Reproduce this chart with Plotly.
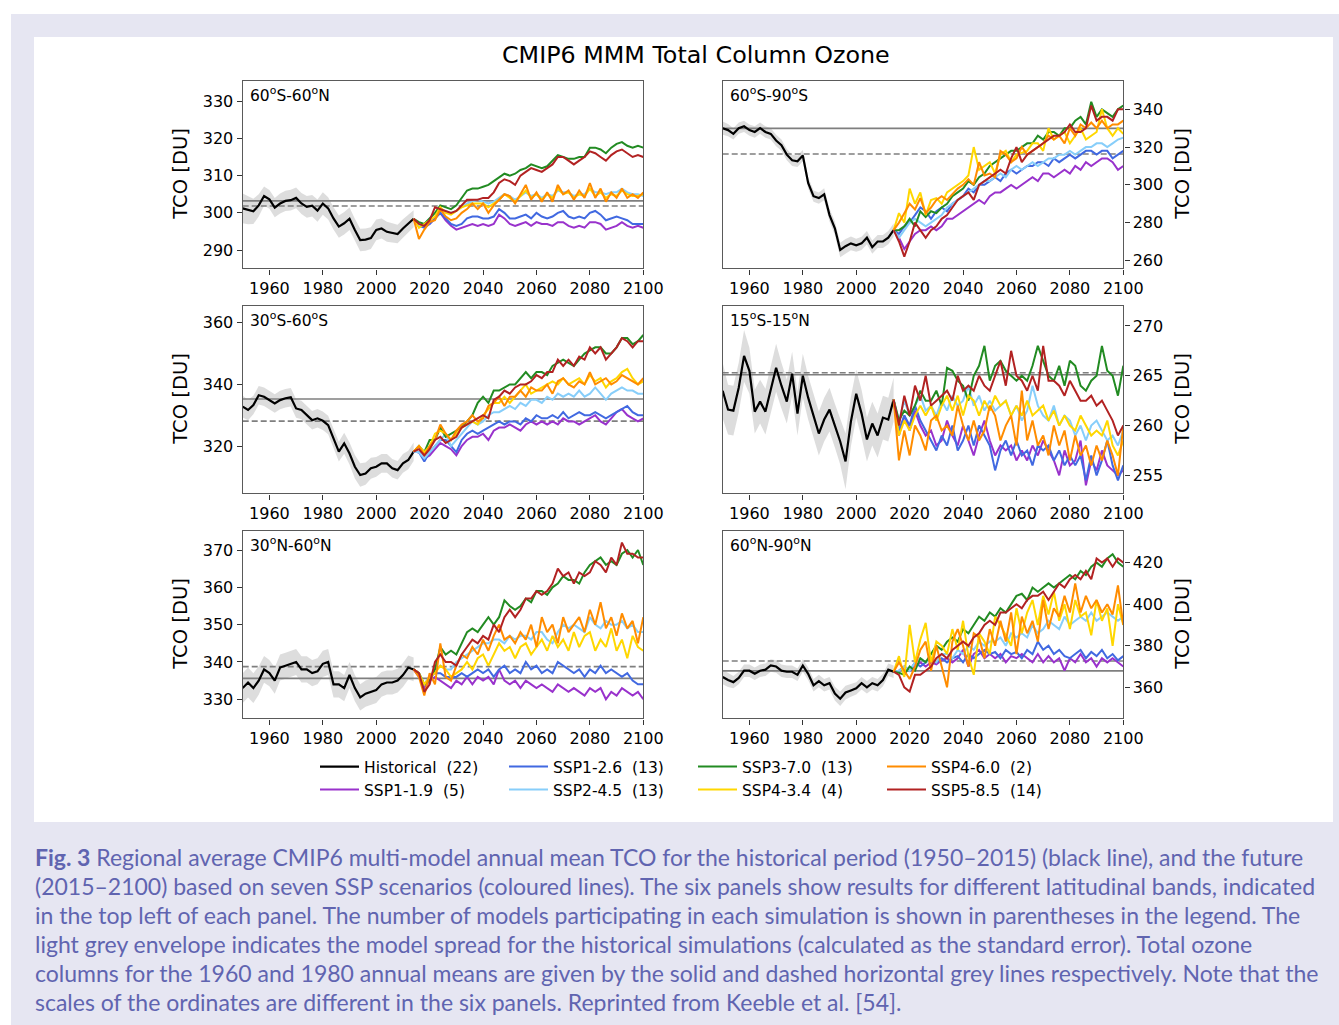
import plotly.graph_objects as go

# ---------------------------------------------------------------- data
HIST_YEARS = list(range(1950, 2015, 2))
SSP_YEARS = list(range(2016, 2101, 2))
X_TICKS = list(range(1960, 2101, 20))

HIST_NAME = "Historical"
HIST_MODELS = 22
SCENARIOS = ["SSP1-1.9", "SSP1-2.6", "SSP2-4.5", "SSP3-7.0", "SSP4-3.4", "SSP4-6.0", "SSP5-8.5"]
SSP_MODELS = [5, 13, 13, 13, 4, 2, 14]

REGIONS = ["60<sup>o</sup>S-60<sup>o</sup>N", "60<sup>o</sup>S-90<sup>o</sup>S",
           "30<sup>o</sup>S-60<sup>o</sup>S", "15<sup>o</sup>S-15<sup>o</sup>N",
           "30<sup>o</sup>N-60<sup>o</sup>N", "60<sup>o</sup>N-90<sup>o</sup>N"]

# 1960 and 1980 annual means (DU)
REF_1960 = [303.2, 329.9, 335.25, 265.1, 335.6, 367.9]
REF_1980 = [301.85, 316.3, 328.1, 265.3, 338.75, 372.7]

Y_TICKS = [[290, 300, 310, 320, 330], [260, 280, 300, 320, 340], [320, 340, 360],
           [255, 260, 265, 270], [330, 340, 350, 360, 370], [360, 380, 400, 420]]

# --- 60S-60N
HIST_60S_60N = [301.2, 300.7, 300.4, 302.0, 304.5, 303.6, 301.4, 302.5, 303.2, 303.4, 304.0,
                302.5, 301.6, 301.9, 300.6, 302.5, 301.2, 298.5, 296.3, 297.2, 298.4, 295.4,
                292.7, 292.8, 293.2, 295.4, 295.8, 294.9, 294.5, 294.3, 295.8, 297.2, 298.4]
SPREAD_60S_60N = [4.0, 3.8, 3.4, 3.0, 2.6, 2.5, 2.6, 2.7, 2.7, 2.8, 2.8, 2.8, 2.9, 2.9, 3.0, 3.0,
                  3.0, 3.0, 3.0, 3.0, 3.0, 3.0, 3.0, 3.0, 2.9, 2.8, 2.7, 2.7, 2.6, 2.5, 2.5, 2.4, 2.3]
SSP119_60S_60N = [296.5, 296.5, 297, 298.5, 300, 298, 296.5, 295.5, 296, 296.5, 297, 296.5, 297,
                  296.5, 297, 299.5, 298.5, 297, 296.5, 297, 297.5, 296.5, 297.5, 297, 297, 296.5,
                  297.5, 297.5, 296.5, 296, 296.5, 296, 297.5, 297.5, 297, 295.5, 296, 296.5,
                  297.5, 296.5, 296, 296.5, 296]
SSP126_60S_60N = [296.5, 296, 297, 298.5, 300, 298.5, 297, 296.5, 297, 298.5, 299, 299, 298.5,
                  298.5, 299, 301, 300, 298.5, 298.5, 299, 299.5, 298.5, 300, 299, 298.5, 299,
                  300, 300.5, 299, 298.5, 299, 298.5, 300, 300.5, 299.5, 298, 298.5, 299, 298.5,
                  298, 297, 297, 297]
SSP245_60S_60N = [296.5, 297, 298.5, 300, 301, 300.5, 300, 300.5, 301.5, 302.5, 303, 303.5, 303,
                  302.5, 303, 304, 305, 304.5, 303.5, 304.5, 305.5, 304.5, 305, 304, 305, 304.5,
                  306, 305.5, 305.5, 304.5, 305, 305, 306.5, 305.5, 305.5, 305, 305.5, 305.5,
                  306.5, 305.5, 305, 305, 304.5]
SSP370_60S_60N = [297.5, 297, 298.5, 300, 302, 301.5, 301, 302, 304, 306, 306.5, 306.5, 307,
                  307.5, 308.5, 309.5, 310.5, 310, 310.5, 311.5, 312, 313, 312.5, 312, 312.5, 314,
                  315.5, 315, 314.5, 314.5, 315, 315, 317.5, 317.5, 317, 316, 317.5, 318.5, 319,
                  318, 317.5, 318, 317.5]
SSP434_60S_60N = [296, 297, 298, 299, 301.5, 300, 299.5, 300.5, 301.5, 302, 302.5, 302.5, 302.5,
                  301.5, 302.5, 303.5, 305, 304, 303, 304.5, 306, 304, 305, 303.5, 305, 304,
                  306.5, 305, 305.5, 304, 305, 304.5, 306.5, 304.5, 305.5, 304, 305, 304.5, 306,
                  305, 304.5, 304.5, 305]
SSP460_60S_60N = [293, 295.5, 297.5, 298, 301, 299, 298, 298.5, 300, 301, 302.5, 301, 302.5, 300,
                  302, 303.5, 305, 304.5, 302.5, 305, 307.5, 303.5, 305.5, 303, 305.5, 303, 307.5,
                  305, 306, 303.5, 306, 304, 308, 304, 306.5, 303, 305.5, 304, 306.5, 304, 305,
                  304, 305.5]
SSP585_60S_60N = [297, 296.5, 298, 301.5, 301, 300.5, 300, 300.5, 302, 303.5, 303.5, 303.5, 304,
                  304, 305.5, 308, 309, 308.5, 307.5, 310, 311, 312, 311.5, 311, 312, 313, 315,
                  315, 314, 313, 314, 315, 316.5, 316, 315, 314, 315.5, 316.5, 317, 316, 315,
                  315.5, 315]

# --- 60S-90S
HIST_60S_90S = [330, 329, 327, 330, 331, 329, 328, 330, 328, 327, 323.5, 321, 316, 313, 312.5,
                315.5, 301, 294, 293, 295, 284, 277, 265.5, 267.5, 269, 268, 269, 272, 267, 270,
                270, 272, 276]
SPREAD_60S_90S = [3.5, 3.2, 3.0, 3.0, 3.0, 3.0, 3.0, 3.0, 3.0, 3.0, 3.0, 3.0, 3.0, 3.0, 3.0, 3.0,
                  3.0, 3.0, 3.0, 3.2, 3.4, 3.6, 3.8, 3.8, 3.6, 3.5, 3.5, 3.5, 3.5, 3.5, 3.5, 3.5, 3.5]
SSP119_60S_90S = [272, 266, 270, 274, 276, 276, 278, 276, 278, 282, 282, 284, 286, 288, 290, 292,
                  290, 294, 296, 296, 298, 300, 298, 300, 302, 304, 302, 306, 306, 304, 306, 308,
                  306, 310, 308, 312, 310, 312, 314, 314, 312, 308, 310]
SSP126_60S_90S = [274, 278, 280, 284, 288, 286, 282, 286, 288, 286, 290, 292, 294, 298, 296, 300,
                  300, 302, 304, 302, 306, 308, 306, 308, 310, 310, 312, 312, 310, 314, 312, 314,
                  316, 314, 316, 318, 318, 316, 318, 318, 314, 316, 318]
SSP245_60S_90S = [272, 276, 280, 282, 280, 278, 280, 282, 284, 288, 290, 292, 294, 296, 298, 300,
                  302, 302, 304, 306, 304, 308, 310, 308, 310, 312, 310, 312, 314, 314, 316, 316,
                  318, 316, 318, 320, 320, 322, 322, 320, 322, 324, 325]
SSP370_60S_90S = [276, 278, 282, 278, 286, 283, 286, 285, 288, 290, 294, 296, 298, 302, 300, 304,
                  306, 310, 312, 314, 316, 318, 318, 320, 322, 322, 326, 324, 328, 328, 326, 330,
                  330, 334, 336, 332, 344, 336, 340, 338, 336, 340, 342]
SSP434_60S_90S = [285, 280, 298, 290, 296, 284, 292, 293, 290, 296, 298, 300, 302, 305, 320, 308,
                  310, 312, 306, 316, 318, 312, 316, 317, 318, 322, 322, 318, 330, 324, 326, 328,
                  322, 326, 330, 324, 326, 328, 340, 330, 326, 330, 327]
SSP460_60S_90S = [280, 285, 290, 287, 293, 285, 288, 292, 294, 292, 295, 298, 300, 303, 300, 312,
                  305, 306, 304, 318, 316, 312, 314, 320, 316, 318, 320, 322, 326, 324, 326, 322,
                  330, 326, 332, 330, 333, 330, 334, 330, 332, 332, 334]
SSP585_60S_90S = [270, 262, 270, 280, 276, 272, 276, 278, 282, 284, 288, 292, 294, 296, 292, 300,
                  302, 304, 306, 308, 306, 314, 320, 312, 316, 318, 320, 322, 324, 326, 326, 328,
                  332, 328, 328, 330, 342, 334, 336, 336, 334, 340, 340]

# --- 30S-60S
HIST_30S_60S = [332.8, 331.7, 333.3, 336.5, 336.0, 334.9, 333.8, 334.9, 335.5, 335.8, 332.2,
                331.7, 330.0, 328.4, 329.0, 328.2, 326.8, 322.5, 318.2, 320.9, 317.6, 313.3,
                310.6, 311.1, 312.8, 313.3, 314.4, 314.4, 312.8, 312.2, 314.4, 315.5, 318.2]
SPREAD_30S_60S = [3.5, 3.3, 3.0, 3.0, 3.0, 3.0, 3.0, 3.0, 3.0, 3.0, 3.0, 3.0, 3.0, 3.0, 3.0, 3.0,
                  3.0, 3.0, 3.2, 3.4, 3.6, 3.8, 3.8, 3.6, 3.4, 3.2, 3.0, 3.0, 3.0, 3.0, 3.0, 3.0, 3.0]
SSP119_30S_60S = [318, 316, 317, 319, 321, 320, 319, 317, 320, 322, 323, 323, 324, 322, 325, 326,
                  326, 327, 326, 325, 327, 328, 327, 328, 327, 328, 327, 329, 328, 328, 327, 328,
                  329, 330, 328, 327, 329, 331, 332, 330, 329, 328, 329]
SSP126_30S_60S = [318, 315, 318, 320, 322, 322, 320, 318, 322, 324, 325, 324, 325, 326, 327, 328,
                  327, 328, 328, 327, 329, 328, 330, 329, 329, 330, 329, 331, 329, 330, 331, 330,
                  330, 331, 330, 329, 330, 331, 332, 333, 331, 330, 330]
SSP245_30S_60S = [318, 316, 318, 320, 322, 324, 320, 322, 324, 326, 328, 327, 328, 330, 331, 331,
                  332, 333, 332, 334, 333, 335, 335, 334, 336, 335, 337, 336, 337, 336, 338, 336,
                  337, 339, 337, 335, 337, 338, 339, 338, 338, 337, 337]
SSP370_30S_60S = [320, 318, 322, 322, 326, 323, 324, 325, 326, 328, 330, 334, 336, 334, 338, 338,
                  339, 340, 340, 342, 344, 342, 344, 344, 343, 346, 347, 348, 347, 346, 348, 350,
                  351, 352, 352, 350, 350, 352, 355, 355, 353, 354, 356]
SSP434_30S_60S = [320, 318, 320, 324, 325, 324, 322, 324, 326, 327, 328, 327, 330, 332, 334, 334,
                  336, 334, 336, 338, 340, 337, 338, 339, 340, 341, 340, 342, 340, 341, 342, 340,
                  343, 341, 342, 339, 341, 342, 344, 345, 342, 340, 341]
SSP460_30S_60S = [320, 317, 320, 322, 327, 324, 322, 325, 327, 328, 330, 328, 329, 333, 334, 336,
                  333, 336, 336, 338, 336, 339, 338, 338, 340, 337, 341, 342, 340, 339, 341, 340,
                  344, 340, 341, 342, 340, 341, 343, 342, 341, 340, 342]
SSP585_30S_60S = [319, 317, 319, 322, 323, 321, 322, 323, 326, 327, 328, 329, 330, 329, 335, 336,
                  338, 337, 339, 340, 340, 341, 343, 342, 344, 344, 348, 346, 348, 346, 349, 348,
                  352, 350, 352, 348, 350, 352, 355, 354, 352, 354, 354]

# --- 15S-15N
HIST_15S_15N = [263.5, 261.6, 261.5, 263.8, 267.0, 265.5, 261.4, 262.4, 261.4, 263.6, 265.8,
                264.0, 262.4, 265.2, 261.2, 265.0, 262.8, 261.0, 259.2, 260.6, 261.6, 260.0,
                258.4, 256.4, 260.4, 263.2, 261.2, 258.6, 260.2, 259.0, 260.8, 260.6, 262.6]
SPREAD_15S_15N = [2.8, 2.5, 2.5, 2.5, 2.6, 2.3, 2.2, 2.2, 2.3, 2.3, 2.4, 2.3, 2.2, 2.2, 2.2, 2.2,
                  2.2, 2.2, 2.2, 2.2, 2.2, 2.2, 2.3, 2.8, 2.5, 2.4, 2.4, 2.2, 2.2, 2.2, 2.2, 2.2, 2.2]
SSP119_15S_15N = [259, 261, 259.5, 261.5, 260, 259, 259.5, 258, 258.5, 260.5, 259, 258, 260,
                  258.5, 257, 259, 260.5, 258.5, 257, 258, 257.5, 258, 256.5, 257.5, 256.5, 258,
                  257, 258.5, 257.5, 256.5, 255, 257.5, 256, 256.5, 258.5, 254, 256.5, 255.5,
                  257.5, 256, 255.5, 255, 255.5]
SSP126_15S_15N = [259.5, 261, 260, 262, 260.5, 259.5, 258.5, 257.5, 259, 258, 260, 257.5, 258.5,
                  260, 258, 260, 259, 258, 255.5, 257.5, 258.5, 257, 258.5, 257, 257.5, 256, 258,
                  257.5, 258, 256.5, 257.5, 256, 257, 256, 257, 254.5, 257, 255, 256.5, 258.5,
                  256, 254.5, 256]
SSP245_15S_15N = [260.5, 262.5, 261, 262, 263, 261.5, 262, 261, 262.5, 261.5, 263, 262, 262.5,
                  264, 262, 263, 261.5, 262.5, 261.5, 262, 262.5, 261, 262, 260.5, 261.5, 264,
                  262, 261, 260.5, 262, 260, 261, 260.5, 259, 260, 258.5, 260, 260.5, 259.5,
                  258.5, 259, 258, 259.5]
SSP370_15S_15N = [260.5, 261.5, 261, 262, 263.5, 262.5, 262.5, 263.5, 262, 265.8, 265.5, 264.5,
                  264, 262.5, 265, 266, 268, 264.5, 266, 266.5, 265.5, 265, 264.5, 265, 264.5,
                  266, 268, 266.5, 265, 264.5, 266, 264, 266.5, 266, 264, 263.5, 264.5, 265, 268,
                  265.5, 265, 263, 266]
SSP434_15S_15N = [259, 260.5, 259.5, 261, 262, 261, 262, 260.5, 262, 263, 261.5, 263, 261, 263,
                  262.5, 261, 262.5, 261.5, 263, 262, 262.5, 261, 262, 261, 262.5, 261, 261.5, 262,
                  260.5, 261.5, 260, 261, 260, 259.5, 261, 260, 259, 259.5, 259, 260.5, 258, 257,
                  258.5]
SSP460_15S_15N = [256.5, 259.5, 257, 260, 259, 257.5, 260.5, 261, 259.5, 260, 259, 262, 260,
                  258.5, 260.5, 258.5, 259.5, 262, 261, 258.5, 260, 261, 258, 263.5, 258.5, 260.5,
                  258, 259, 257, 260, 258, 259.5, 256.5, 259, 257, 258, 256, 258, 256.5, 258.5,
                  257, 255, 260]
SSP585_15S_15N = [260, 263, 261, 264, 262.5, 265, 262, 262.5, 263, 263.5, 262.5, 265, 263.5, 264,
                  263.5, 265, 264, 263.5, 265, 266.5, 264, 267.5, 265, 264.5, 263.5, 265, 263.5,
                  268, 264.5, 264.5, 264, 263, 264.5, 263.5, 262.5, 262.5, 263, 262, 262.5, 261.5,
                  260.5, 259, 260]

# --- 30N-60N
HIST_30N_60N = [333, 334.5, 333, 335, 338, 337, 335, 338.5, 339, 339.5, 340, 338, 338, 337,
                337.5, 339.5, 340, 334, 334, 333, 336.5, 333, 330.5, 331.5, 332, 332.5, 334,
                334.5, 334.5, 335, 336.5, 338.5, 338]
SPREAD_30N_60N = [4.0, 4.0, 4.0, 3.8, 3.6, 3.5, 3.5, 3.5, 3.5, 3.5, 3.5, 3.5, 3.5, 3.5, 3.5, 3.5,
                  3.5, 3.5, 3.5, 3.5, 3.5, 3.5, 3.5, 3.5, 3.5, 3.5, 3.3, 3.2, 3.2, 3.2, 3.2, 3.2, 3.2]
SSP119_30N_60N = [336, 333, 335, 336, 335, 334, 333, 335, 334, 336, 334, 336, 335, 336, 334, 338,
                  335, 334, 335, 333, 335, 334, 333, 334, 333, 332, 334, 333, 332, 333, 332, 331,
                  333, 332, 333, 330, 332, 331, 333, 332, 331, 332, 330]
SSP126_30N_60N = [337, 334, 336, 337, 337, 336, 336, 336, 337, 336, 337, 338, 337, 338, 336, 338,
                  339, 337, 338, 337, 340, 338, 339, 337, 338, 337, 340, 339, 338, 337, 338, 336,
                  338, 337, 339, 337, 338, 337, 336, 337, 335, 334, 334]
SSP245_30N_60N = [337, 334, 336, 338, 339, 338, 338, 340, 341, 342, 343, 344, 345, 345, 346, 346,
                  345, 347, 346, 347, 347, 346, 348, 348, 346, 345, 348, 350, 349, 350, 349, 348,
                  352, 350, 349, 351, 350, 350, 351, 349, 350, 348, 348]
SSP370_30N_60N = [337, 334, 335, 338, 344, 342, 343, 342, 345, 348, 349, 348, 350, 352, 350, 352,
                  356.5, 355, 354, 355, 357, 356, 359, 359, 358, 360, 361, 363, 362, 362, 361, 364,
                  366, 367, 368, 366, 367, 366, 369, 370, 368, 370, 366]
SSP434_30N_60N = [337, 334, 336, 337, 339, 338, 336, 337, 338, 340, 338, 341, 342, 339, 342, 345,
                  343, 344, 341, 344, 345, 342, 344, 346, 343, 347, 344, 346, 343, 348, 344, 347,
                  348, 343, 346, 344, 349, 343, 346, 341, 347, 344, 343]
SSP460_30N_60N = [336, 331, 337, 334, 345, 336, 335, 339, 342, 341, 344, 342, 346, 343, 347, 350,
                  346, 347, 345, 348, 346, 350, 344, 352, 348, 350, 345, 352, 348, 350, 352, 348,
                  354, 350, 356, 349, 352, 347, 353, 349, 351, 345, 352]
SSP585_30N_60N = [337, 332, 334, 340, 342, 340, 340, 339, 342, 344, 346, 345, 347, 346, 350, 348,
                  352, 354, 352, 354, 357, 357, 359, 358, 359, 361, 365, 363, 364, 361, 364, 363,
                  364, 367, 366, 364, 368, 366, 372, 369, 369, 368, 368]

# --- 60N-90N
HIST_60N_90N = [365, 363.5, 362.5, 364.5, 368, 368, 366.5, 368, 368.5, 370.5, 370, 368, 367.5,
                367.5, 366, 370.5, 366.5, 361, 363, 361, 362, 357, 354.5, 357.5, 358.5, 359.5,
                362, 360, 362, 361, 363.5, 368.5, 367.5]
SPREAD_60N_90N = [3.5, 3.3, 3.0, 3.0, 3.0, 3.0, 3.0, 3.0, 3.0, 3.0, 3.0, 3.0, 3.0, 3.0, 3.0, 3.0,
                  3.0, 3.0, 3.0, 3.0, 3.0, 3.3, 3.5, 3.3, 3.0, 3.0, 3.0, 3.0, 3.0, 3.0, 3.0, 3.0, 3.0]
SSP119_60N_90N = [368, 370, 368, 370, 372, 370, 372, 371, 373, 374, 372, 374, 378, 370, 376, 378,
                  374, 376, 374, 376, 372, 375, 374, 376, 374, 372, 376, 372, 375, 372, 374, 368,
                  374, 372, 376, 372, 374, 370, 374, 372, 374, 372, 370]
SSP126_60N_90N = [368, 370, 368, 372, 370, 372, 374, 372, 374, 372, 374, 375, 372, 376, 374, 376,
                  378, 376, 377, 374, 378, 376, 377, 374, 378, 376, 382, 378, 380, 376, 378, 375,
                  374, 376, 378, 374, 377, 375, 378, 374, 376, 373, 375]
SSP245_60N_90N = [368, 370, 368, 372, 374, 372, 374, 372, 376, 376, 374, 378, 376, 380, 378, 382,
                  380, 382, 382, 384, 380, 386, 384, 386, 384, 390, 386, 388, 392, 390, 388, 394,
                  390, 392, 394, 392, 396, 392, 394, 396, 394, 392, 394]
SSP370_60N_90N = [367, 366, 370, 368, 374, 372, 376, 380, 378, 382, 384, 382, 388, 386, 390, 394,
                  392, 396, 394, 398, 396, 400, 404, 405, 402, 408, 406, 408, 410, 408, 410, 412,
                  414, 412, 416, 414, 418, 420, 418, 422, 424, 420, 418]
SSP434_60N_90N = [375, 365, 390, 372, 383, 391, 372, 382, 380, 376, 388, 378, 392, 375, 366, 386,
                  382, 376, 394, 390, 385, 380, 398, 386, 396, 402, 390, 404, 395, 406, 392, 400,
                  388, 402, 394, 396, 385, 402, 392, 398, 380, 400, 390]
SSP460_60N_90N = [372, 368, 364, 370, 378, 382, 368, 380, 370, 360, 382, 388, 380, 370, 386, 384,
                  374, 388, 380, 392, 382, 396, 376, 394, 386, 392, 382, 402, 388, 398, 394, 404,
                  396, 410, 396, 404, 398, 402, 396, 400, 395, 409, 390]
SSP585_60N_90N = [366, 360, 358, 366, 366, 368, 370, 374, 376, 374, 378, 380, 382, 380, 384, 386,
                  390, 392, 390, 396, 396, 398, 400, 398, 402, 404, 404, 406, 402, 406, 410, 408,
                  412, 414, 412, 416, 412, 422, 420, 422, 418, 422, 420]

# ---------------------------------------------------------------- tables
PANEL_HIST = [HIST_60S_60N, HIST_60S_90S, HIST_30S_60S, HIST_15S_15N, HIST_30N_60N, HIST_60N_90N]
PANEL_SPREAD = [SPREAD_60S_60N, SPREAD_60S_90S, SPREAD_30S_60S, SPREAD_15S_15N,
                SPREAD_30N_60N, SPREAD_60N_90N]
PANEL_SSP = [
    [SSP119_60S_60N, SSP126_60S_60N, SSP245_60S_60N, SSP370_60S_60N, SSP434_60S_60N, SSP460_60S_60N, SSP585_60S_60N],
    [SSP119_60S_90S, SSP126_60S_90S, SSP245_60S_90S, SSP370_60S_90S, SSP434_60S_90S, SSP460_60S_90S, SSP585_60S_90S],
    [SSP119_30S_60S, SSP126_30S_60S, SSP245_30S_60S, SSP370_30S_60S, SSP434_30S_60S, SSP460_30S_60S, SSP585_30S_60S],
    [SSP119_15S_15N, SSP126_15S_15N, SSP245_15S_15N, SSP370_15S_15N, SSP434_15S_15N, SSP460_15S_15N, SSP585_15S_15N],
    [SSP119_30N_60N, SSP126_30N_60N, SSP245_30N_60N, SSP370_30N_60N, SSP434_30N_60N, SSP460_30N_60N, SSP585_30N_60N],
    [SSP119_60N_90N, SSP126_60N_90N, SSP245_60N_90N, SSP370_60N_90N, SSP434_60N_90N, SSP460_60N_90N, SSP585_60N_90N],
]

# ---------------------------------------------------------------- styling
W, H = 1339, 1025
FONT = "DejaVu Sans"
SSP_COLORS = ["#9932CC", "#4169E1", "#87CEFA", "#228B22", "#FFD700", "#FF8C00", "#B22222"]
SSP_LEGEND = ["legend2", "legend", "legend2", "legend", "legend2", "legend", "legend2"]
ENVELOPE = "rgba(210,210,210,0.75)"
REF_COLOR = "#7f7f7f"
FRAME = "#5a5a5a"
Y_RANGES = [[285.1, 335.4], [255.8, 355.0], [304.7, 365.4],
            [253.2, 272.0], [324.9, 375.1], [345.1, 435.2]]

COL_PX = [(242.7, 643.3), (722.7, 1123.3)]
ROW_PX = [(81.0, 268.3), (306.0, 493.3), (531.0, 718.3)]


def px_x(v):
    return v / W


def px_y(v):
    return 1 - v / H


fig = go.Figure()

for i in range(6):
    suffix = "" if i == 0 else str(i + 1)
    xa, ya = "x" + suffix, "y" + suffix
    hist = PANEL_HIST[i]
    spread = PANEL_SPREAD[i]
    upper = [h + s for h, s in zip(hist, spread)]
    lower = [h - s for h, s in zip(hist, spread)]
    common = dict(xaxis=xa, yaxis=ya, hoverinfo="skip")

    # model-spread envelope of the historical runs
    fig.add_trace(go.Scatter(x=HIST_YEARS, y=upper, mode="lines", line=dict(width=0),
                             showlegend=False, **common))
    fig.add_trace(go.Scatter(x=HIST_YEARS, y=lower, mode="lines", line=dict(width=0),
                             fill="tonexty", fillcolor=ENVELOPE, showlegend=False, **common))

    # 1960 (solid) and 1980 (dashed) reference means
    fig.add_trace(go.Scatter(x=[1950, 2100], y=[REF_1960[i]] * 2, mode="lines",
                             line=dict(color=REF_COLOR, width=1.6), showlegend=False, **common))
    fig.add_trace(go.Scatter(x=[1950, 2100], y=[REF_1980[i]] * 2, mode="lines",
                             line=dict(color=REF_COLOR, width=1.6, dash="6px,3px"),
                             showlegend=False, **common))

    fig.add_trace(go.Scatter(x=HIST_YEARS, y=hist, mode="lines",
                             name=f"{HIST_NAME}\u00a0\u00a0({HIST_MODELS})",
                             legendgroup="hist", legend="legend", showlegend=(i == 0),
                             line=dict(color="black", width=2.2), **common))

    for k, name in enumerate(SCENARIOS):
        fig.add_trace(go.Scatter(x=[HIST_YEARS[-1]] + SSP_YEARS, y=[hist[-1]] + PANEL_SSP[i][k],
                                 mode="lines", name=f"{name}\u00a0\u00a0({SSP_MODELS[k]})",
                                 legendgroup=name, legend=SSP_LEGEND[k], showlegend=(i == 0),
                                 line=dict(color=SSP_COLORS[k], width=2), **common))

axis_font = dict(family=FONT, size=16, color="black")
layout_axes = {}
annotations = []
for i in range(6):
    row, col = divmod(i, 2)
    suffix = "" if i == 0 else str(i + 1)
    x0, x1 = COL_PX[col]
    y0, y1 = ROW_PX[row]
    layout_axes["xaxis" + suffix] = dict(
        domain=[px_x(x0), px_x(x1)], range=[1950, 2100], anchor="y" + suffix,
        tickvals=X_TICKS, ticks="outside", ticklen=5, tickwidth=1.2, tickcolor="#333",
        tickfont=axis_font, showgrid=False, zeroline=False, showline=True, mirror=True,
        linecolor=FRAME, linewidth=1.4, automargin=False)
    layout_axes["yaxis" + suffix] = dict(
        domain=[px_y(y1), px_y(y0)], range=Y_RANGES[i], anchor="x" + suffix,
        side="left" if col == 0 else "right",
        tickvals=Y_TICKS[i], ticks="outside", ticklen=5, tickwidth=1.2, tickcolor="#333",
        tickfont=axis_font, showgrid=False, zeroline=False, showline=True, mirror=True,
        linecolor=FRAME, linewidth=1.4, automargin=False)
    annotations.append(dict(
        text=REGIONS[i], xref="x" + suffix + " domain", yref="y" + suffix + " domain",
        x=0.014, y=1, xanchor="left", yanchor="top", yshift=-1, showarrow=False,
        font=dict(family=FONT, size=15.5, color="black")))
    annotations.append(dict(
        text="TCO [DU]", xref="paper", yref="paper",
        x=px_x(181 if col == 0 else 1183), y=px_y((y0 + y1) / 2),
        xanchor="center", yanchor="middle", textangle=-90, showarrow=False,
        font=dict(family=FONT, size=19.5, color="black")))

annotations.append(dict(
    text="CMIP6 MMM Total Column Ozone", xref="paper", yref="paper",
    x=px_x(695.5), y=px_y(55), xanchor="center", yanchor="middle", showarrow=False,
    font=dict(family=FONT, size=23.8, color="black")))

CAPTION = [
    "<b>Fig. 3</b> Regional average CMIP6 multi-model annual mean TCO for the historical period (1950–2015) (black line), and the future",
    "(2015–2100) based on seven SSP scenarios (coloured lines). The six panels show results for different latitudinal bands, indicated",
    "in the top left of each panel. The number of models participating in each simulation is shown in parentheses in the legend. The",
    "light grey envelope indicates the model spread for the historical simulations (calculated as the standard error). Total ozone",
    "columns for the 1960 and 1980 annual means are given by the solid and dashed horizontal grey lines respectively. Note that the",
    "scales of the ordinates are different in the six panels. Reprinted from Keeble et al. [54].",
]
for j, line in enumerate(CAPTION):
    annotations.append(dict(
        text=line, xref="paper", yref="paper", x=px_x(33), y=px_y(857 + 29 * j),
        xanchor="left", yanchor="middle", showarrow=False,
        font=dict(family="Lato", size=23.0, color="#6064b0")))

shapes = [
    dict(type="rect", xref="paper", yref="paper", x0=px_x(11), x1=1, y0=0, y1=px_y(14),
         fillcolor="#e6e6f2", line=dict(width=0), layer="below"),
    dict(type="rect", xref="paper", yref="paper", x0=px_x(34), x1=px_x(1333),
         y0=px_y(822), y1=px_y(37), fillcolor="white", line=dict(width=0), layer="below"),
]

legend_common = dict(orientation="h", xanchor="left", yanchor="middle", entrywidth=135,
                     bgcolor="rgba(0,0,0,0)", borderwidth=0, itemwidth=39, tracegroupgap=0,
                     font=dict(family=FONT, size=15.5, color="black"))

fig.update_layout(
    width=W, height=H, autosize=False,
    margin=dict(l=0, r=0, t=0, b=0, pad=0),
    paper_bgcolor="white", plot_bgcolor="white",
    showlegend=True,
    legend=dict(x=px_x(315), y=px_y(767), **legend_common),
    legend2=dict(x=px_x(315), y=px_y(790), **legend_common),
    annotations=annotations, shapes=shapes,
    **layout_axes,
)

fig.write_html("out.html")
